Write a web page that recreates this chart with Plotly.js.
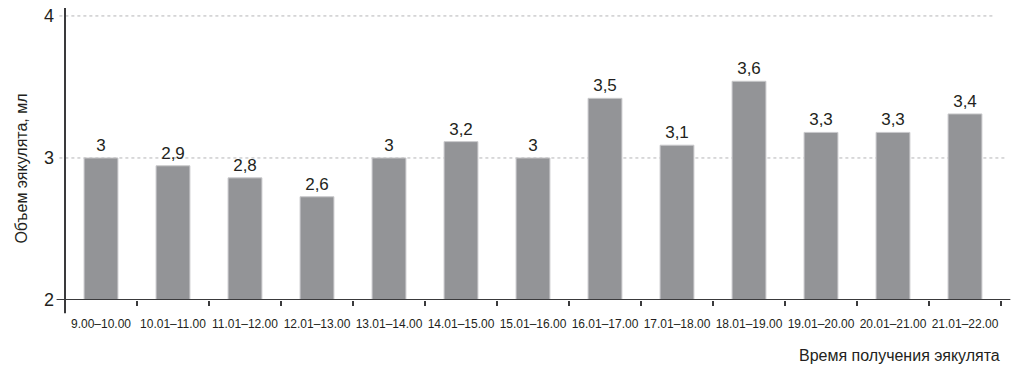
<!DOCTYPE html>
<html><head><meta charset="utf-8">
<script src="https://cdn.plot.ly/plotly-3.0.1.min.js"></script>
<style>html,body{margin:0;padding:0;background:#fff}#c{width:1024px;height:367px}</style>
</head><body><div id="c"></div>
<script>
const categories = ["9.00–10.00","10.01–11.00","11.01–12.00","12.01–13.00","13.01–14.00","14.01–15.00","15.01–16.00","16.01–17.00","17.01–18.00","18.01–19.00","19.01–20.00","20.01–21.00","21.01–22.00"];
const values = [3.00, 2.945, 2.86, 2.727, 3.00, 3.115, 3.00, 3.42, 3.09, 3.54, 3.18, 3.18, 3.31];
const valueLabels = ["3","2,9","2,8","2,6","3","3,2","3","3,5","3,1","3,6","3,3","3,3","3,4"];
const yTicks = [2, 3, 4];
const yTickLabels = ["2", "3", "4"];
const yTitle = "Объем эякулята, мл";
const xTitle = "Время получения эякулята";

const ink = "#231f20";
const trace = {
  type: "bar", x: categories, y: values, text: valueLabels,
  textposition: "outside", cliponaxis: false, constraintext: "none", textangle: 0,
  textfont: {family: "Liberation Sans, Arial, sans-serif", size: 17, color: ink},
  marker: {color: "#939497", line: {color: "#c9c9cb", width: 1}},
  width: 0.47, hoverinfo: "none"
};
const shapes = [];
yTicks.filter(v => v > 2).forEach(v => shapes.push({
  type: "line", xref: "paper", yref: "y", x0: -0.006, x1: v === 4 ? 0.994 : 1.005, y0: v, y1: v,
  line: {color: "#b4b4b6", width: 1, dash: "3px,3px"}, layer: "below"
}));
shapes.push({type: "line", xref: "paper", yref: "paper", x0: 0, x1: 0, y0: -0.045, y1: 1, line: {color: "#3a3a3c", width: 2}});
shapes.push({type: "line", xref: "paper", yref: "y", x0: -0.009, x1: 1.01, y0: yTicks[0], y1: yTicks[0], line: {color: "#3a3a3c", width: 2}});

const layout = {
  width: 1024, height: 367,
  margin: {l: 65, r: 23, t: 8, b: 67},
  paper_bgcolor: "#fff", plot_bgcolor: "#fff",
  showlegend: false,
  font: {family: "Liberation Sans, Arial, sans-serif", color: ink},
  xaxis: {
    type: "category", range: [-0.5, categories.length - 0.5],
    tickson: "boundaries", ticks: "outside", ticklen: 5, tickwidth: 1.5, tickcolor: "#3a3a3c",
    showgrid: false, showline: false, zeroline: false, tickangle: 0,
    tickfont: {family: "Liberation Sans, Arial, sans-serif", size: 12, color: ink},
    ticklabelstandoff: 15
  },
  yaxis: {
    range: [2, 4.056], tickvals: yTicks, ticktext: yTickLabels,
    showgrid: false, zeroline: false, showline: false, ticks: "",
    tickfont: {size: 18, color: ink}, ticklabelstandoff: 10
  },
  shapes: shapes,
  annotations: [
    {text: yTitle, xref: "paper", yref: "paper", x: 0, y: 0.45, xshift: -43, textangle: -90,
     showarrow: false, font: {size: 16, color: ink}, xanchor: "center", yanchor: "middle"},
    {text: xTitle, xref: "paper", yref: "paper", x: 1.001, y: -0.19, xanchor: "right", yanchor: "middle",
     showarrow: false, font: {size: 16, color: ink}}
  ]
};
Plotly.newPlot("c", [trace], layout, {displayModeBar: false, staticPlot: true});
</script></body></html>
